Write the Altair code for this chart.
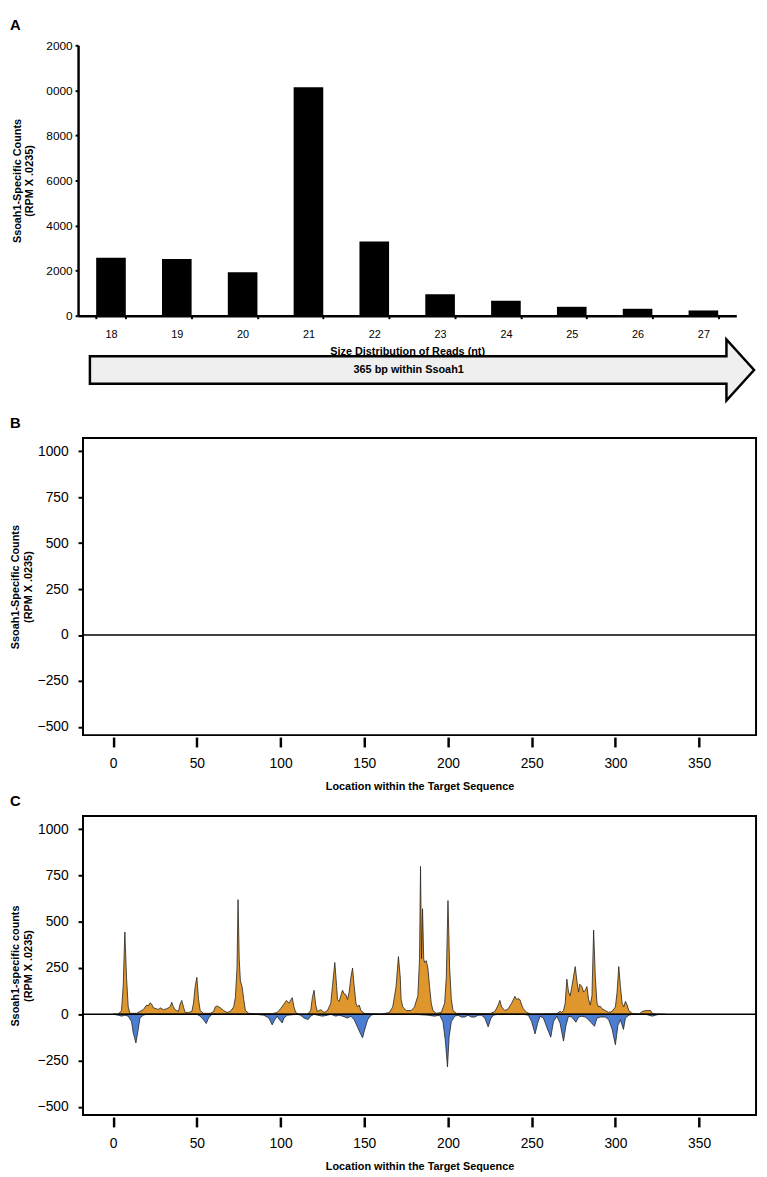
import altair as alt
import pandas as pd

FONT = "Liberation Sans"

# ---------------- Panel A data ----------------
read_sizes = ["18", "19", "20", "21", "22", "23", "24", "25", "26", "27"]
read_counts = [2577, 2516, 1932, 10143, 3293, 953, 659, 395, 307, 233]
a_ticks = [0, 2000, 4000, 6000, 8000, 10000, 12000]

# ---------------- Panel C data ----------------
sense_pos = [0, 3, 5, 6, 7, 8, 9, 10, 14, 16, 18, 20, 21, 22, 23, 24, 26, 27, 28, 30,
             32, 34, 35, 36, 37, 39, 40, 41, 42, 43, 45, 47, 48, 49, 50, 51, 52, 54, 58, 60,
             61, 62, 64, 66, 68, 70, 72, 73, 74, 74.6, 75.3, 76, 77, 78, 79, 81, 85, 95, 98, 100,
             102, 103.5, 105, 107, 108, 109, 111, 116, 118, 119, 120, 121, 122, 124, 126, 128, 130, 131, 132.4, 133.5,
             134, 135, 136, 137, 138, 139, 140, 141, 142, 143, 144, 145, 146, 147, 148, 150, 160, 165, 167, 169,
             170.4, 171.5, 172, 173, 175, 178, 180, 182, 183, 183.6, 184.2, 184.8, 185.5, 186, 187, 188, 189, 190, 191, 193,
             196, 198, 199, 200, 201, 202, 203, 205, 225, 228, 230, 231, 232, 234, 236, 238, 240, 241, 242, 243,
             244, 245, 247, 250, 265, 267, 268, 269, 270, 271, 272, 273, 274, 276, 277, 278, 278.7, 280, 281, 282,
             283, 284, 285, 286, 287, 288, 289, 290, 291, 292, 294, 296, 298, 300, 301, 302, 303, 304, 305, 306,
             307, 308, 310, 314, 316, 318, 321, 322, 324, 330]
sense_val = [0, 0, 20, 150, 445, 200, 40, 5, 5, 15, 25, 50, 45, 62, 55, 35, 30, 25, 35, 25,
             30, 40, 65, 40, 25, 15, 55, 75, 40, 10, 10, 15, 60, 150, 200, 80, 20, 5, 5, 15,
             40, 45, 35, 20, 10, 15, 40, 90, 250, 620, 300, 180, 150, 80, 20, 5, 3, 3, 10, 30,
             55, 75, 60, 90, 40, 10, 0, 0, 20, 90, 130, 50, 15, 25, 10, 20, 60, 150, 280, 150,
             80, 70, 100, 130, 110, 106, 80, 120, 200, 250, 150, 60, 40, 50, 20, 5, 0, 10, 40, 150,
             312, 200, 80, 40, 20, 20, 40, 100, 300, 800, 300, 571, 300, 280, 290, 250, 150, 60, 20, 5,
             10, 60, 200, 615, 250, 80, 20, 5, 3, 15, 50, 75, 40, 20, 30, 60, 97, 80, 85, 79,
             50, 30, 10, 0, 3, 16, 10, 20, 60, 190, 120, 100, 150, 258, 180, 120, 163, 150, 120, 130,
             150, 80, 50, 100, 455, 200, 60, 40, 43, 30, 20, 10, 15, 40, 120, 258, 150, 60, 40, 70,
             50, 20, 5, 0, 15, 20, 20, 5, 0, 0]

anti_pos = [0, 3, 5, 7, 9, 11, 12, 13.6, 15, 16, 18, 20, 50, 52, 54, 55.6, 57, 59, 85, 90,
            93, 95, 96.5, 98, 99, 101, 102, 104, 110, 112, 114, 116.5, 118, 120, 122, 125, 128, 130, 133, 135,
            137, 140, 142, 144, 146, 148, 149, 150, 152, 154, 156, 180, 188, 192, 195, 197, 198.5, 199.7, 200.7, 202,
            204, 206, 208, 210, 212, 214, 216, 218, 220, 222, 224, 225.5, 227, 230, 245, 248, 250, 252, 253.5, 255,
            257, 259, 261.4, 263, 265, 267, 269, 270.5, 272, 274, 276.4, 278, 280, 282, 284, 287.5, 289, 291, 294, 296,
            298, 300, 301.5, 303, 304.8, 306, 308, 310, 318, 320, 322, 324, 326]
anti_val = [0, -5, -10, -5, -10, -40, -100, -155, -80, -20, -5, 0, 0, -10, -30, -50, -20, 0, 0, -5,
            -20, -57, -30, -10, -25, -47, -20, -5, 0, -5, -20, -28, -10, 0, -5, -10, -5, 0, -10, -5,
            -10, -20, -10, -30, -70, -110, -127, -90, -30, -5, 0, 0, -5, -10, -5, -40, -150, -285, -120, -40,
            -10, -5, -15, -15, -5, -15, -15, -5, -5, -20, -68, -25, -5, 0, 0, -5, -40, -106, -50, -10,
            -20, -70, -124, -40, -10, -50, -145, -60, -10, -15, -43, -15, -10, -15, -30, -65, -20, -15, -15, -30,
            -80, -165, -60, -30, -82, -20, -5, 0, 0, -5, -10, -5, 0]

loc_ticks = [0, 50, 100, 150, 200, 250, 300, 350]
count_ticks = [-500, -250, 0, 250, 500, 750, 1000]
X_MIN, X_MAX = -18, 384
Y_MIN, Y_MAX = -545, 1072

ARROW_PATH = ("M -1 -0.0416 L 0.9168 -0.0416 L 0.9168 -0.0921 L 1 0 "
              "L 0.9168 0.0921 L 0.9168 0.0416 L -1 0.0416 Z")

# ---------------- Panel A ----------------
df_a = pd.DataFrame({"size": read_sizes, "count": read_counts})
one = pd.DataFrame({"label": ["365 bp within Ssoah1"]})

bars = alt.Chart(df_a).mark_bar(color="black").encode(
    x=alt.X("size:N", sort=read_sizes,
            scale=alt.Scale(paddingInner=0.55, paddingOuter=0.275, range=[-5, 662]),
            axis=alt.Axis(title="Size Distribution of Reads (nt)", labelAngle=0, tickBand="extent",
                          domainWidth=2.5, domainColor="black",
                          tickColor="black", tickWidth=2, tickSize=3, labelFontSize=11,
                          labelPadding=10, labelColor="black", titleFontSize=11,
                          titleFontWeight="bold", titlePadding=6, titleColor="black")),
    y=alt.Y("count:Q", scale=alt.Scale(domain=[0, 12000], nice=False),
            axis=alt.Axis(title=["Ssoah1-Specific Counts", "(RPM X .0235)"], values=a_ticks, format="d",
                          labelExpr="datum.value == 12000 ? '2000' : datum.value == 10000 ? '0000' : datum.label",
                          offset=5, domainWidth=2.5, domainColor="black", tickColor="black", tickWidth=2,
                          tickSize=3, labelFontSize=12, labelPadding=3, labelColor="black",
                          titleFontSize=11, titleFontWeight="bold", titleLineHeight=13,
                          titlePadding=11, titleColor="black", grid=False)),
)

arrow = alt.Chart(one).mark_point(
    shape=ARROW_PATH, size=673 * 673, fill="#efefef", stroke="black", strokeWidth=2.5,
    opacity=1, fillOpacity=1, strokeOpacity=1, filled=False
).encode(x=alt.value(426.5 - 83), y=alt.value(329))

arrow_text = alt.Chart(one).mark_text(
    fontSize=11, fontWeight="bold", color="black", align="center", baseline="middle"
).encode(x=alt.value(413 - 83), y=alt.value(329), text="label:N")

label_a = alt.Chart(one).mark_text(
    text="A", fontSize=15, fontWeight="bold", align="left", baseline="middle", color="black"
).encode(x=alt.value(9 - 83), y=alt.value(-21))

panel_a = alt.layer(bars, arrow, arrow_text, label_a).properties(width=662, height=274)


# ---------------- Panels B and C ----------------
X_TITLE = "Location within the Target Sequence"


def x_axis():
    return alt.Axis(title=X_TITLE, values=loc_ticks, format="d", domain=False, offset=2, tickSize=10,
                    tickWidth=2.5, tickColor="black", labelFontSize=14, labelPadding=10,
                    labelColor="black", titleFontSize=11, titleFontWeight="bold",
                    titlePadding=10, titleColor="black", grid=False)


def y_axis(title_lines):
    return alt.Axis(title=title_lines, values=count_ticks, format="d", domain=False, tickSize=5,
                    tickWidth=2, tickColor="black", labelFontSize=14, labelPadding=10,
                    labelColor="black", titleFontSize=11, titleFontWeight="bold",
                    titleLineHeight=13, titlePadding=4, titleColor="black", grid=False)


x_scale = alt.Scale(domain=[X_MIN, X_MAX], nice=False, zero=False)
y_scale = alt.Scale(domain=[Y_MIN, Y_MAX], nice=False)


def zero_rule(title_lines):
    return alt.Chart(one).mark_rule(color="black", strokeWidth=1.5).encode(
        x=alt.X(datum=X_MIN, type="quantitative", scale=x_scale, axis=x_axis()),
        x2=alt.datum(X_MAX),
        y=alt.Y(datum=0, type="quantitative", scale=y_scale, axis=y_axis(title_lines)),
    )


def panel_label(letter):
    return alt.Chart(one).mark_text(
        text=letter, fontSize=15, fontWeight="bold", align="left", baseline="middle", color="black"
    ).encode(x=alt.value(9 - 83), y=alt.value(-15))


def spacer(dy):
    return alt.Chart(one).mark_rule(strokeOpacity=0, strokeWidth=1).encode(
        x=alt.value(0), x2=alt.value(1), y=alt.value(dy), y2=alt.value(dy))


frame = alt.ViewBackground(stroke="black", strokeWidth=2)

B_TITLE = ["Ssoah1-Specific Counts", "(RPM X .0235)"]
C_TITLE = ["Ssoah1-specific counts", "(RPM X .0235)"]

panel_b = alt.layer(
    zero_rule(B_TITLE),
    panel_label("B"),
    spacer(-32),
).properties(width=682, height=301, view=frame)

df_sense = pd.DataFrame({"pos": sense_pos, "val": sense_val})
df_anti = pd.DataFrame({"pos": anti_pos, "val": anti_val})

sense_area = alt.Chart(df_sense).mark_area(
    fill="#DE962D", stroke="#222222", strokeWidth=0.8, opacity=1
).encode(x=alt.X("pos:Q", scale=x_scale, axis=x_axis()),
         y=alt.Y("val:Q", scale=y_scale, axis=y_axis(C_TITLE)))

anti_area = alt.Chart(df_anti).mark_area(
    fill="#4B7DD2", stroke="#222222", strokeWidth=0.8, opacity=1
).encode(x=alt.X("pos:Q", scale=x_scale, axis=x_axis()),
         y=alt.Y("val:Q", scale=y_scale, axis=y_axis(C_TITLE)))

panel_c = alt.layer(
    sense_area,
    anti_area,
    zero_rule(C_TITLE),
    panel_label("C"),
    spacer(-23),
).properties(width=682, height=303, view=frame)

chart = alt.vconcat(panel_a, panel_b, panel_c, spacing=0).properties(
    padding={"left": 0, "top": 2, "right": 0, "bottom": 0}
).configure(font=FONT).configure_view(stroke=None)

chart.save("out.html", embed_options={"renderer": "svg", "actions": False})
